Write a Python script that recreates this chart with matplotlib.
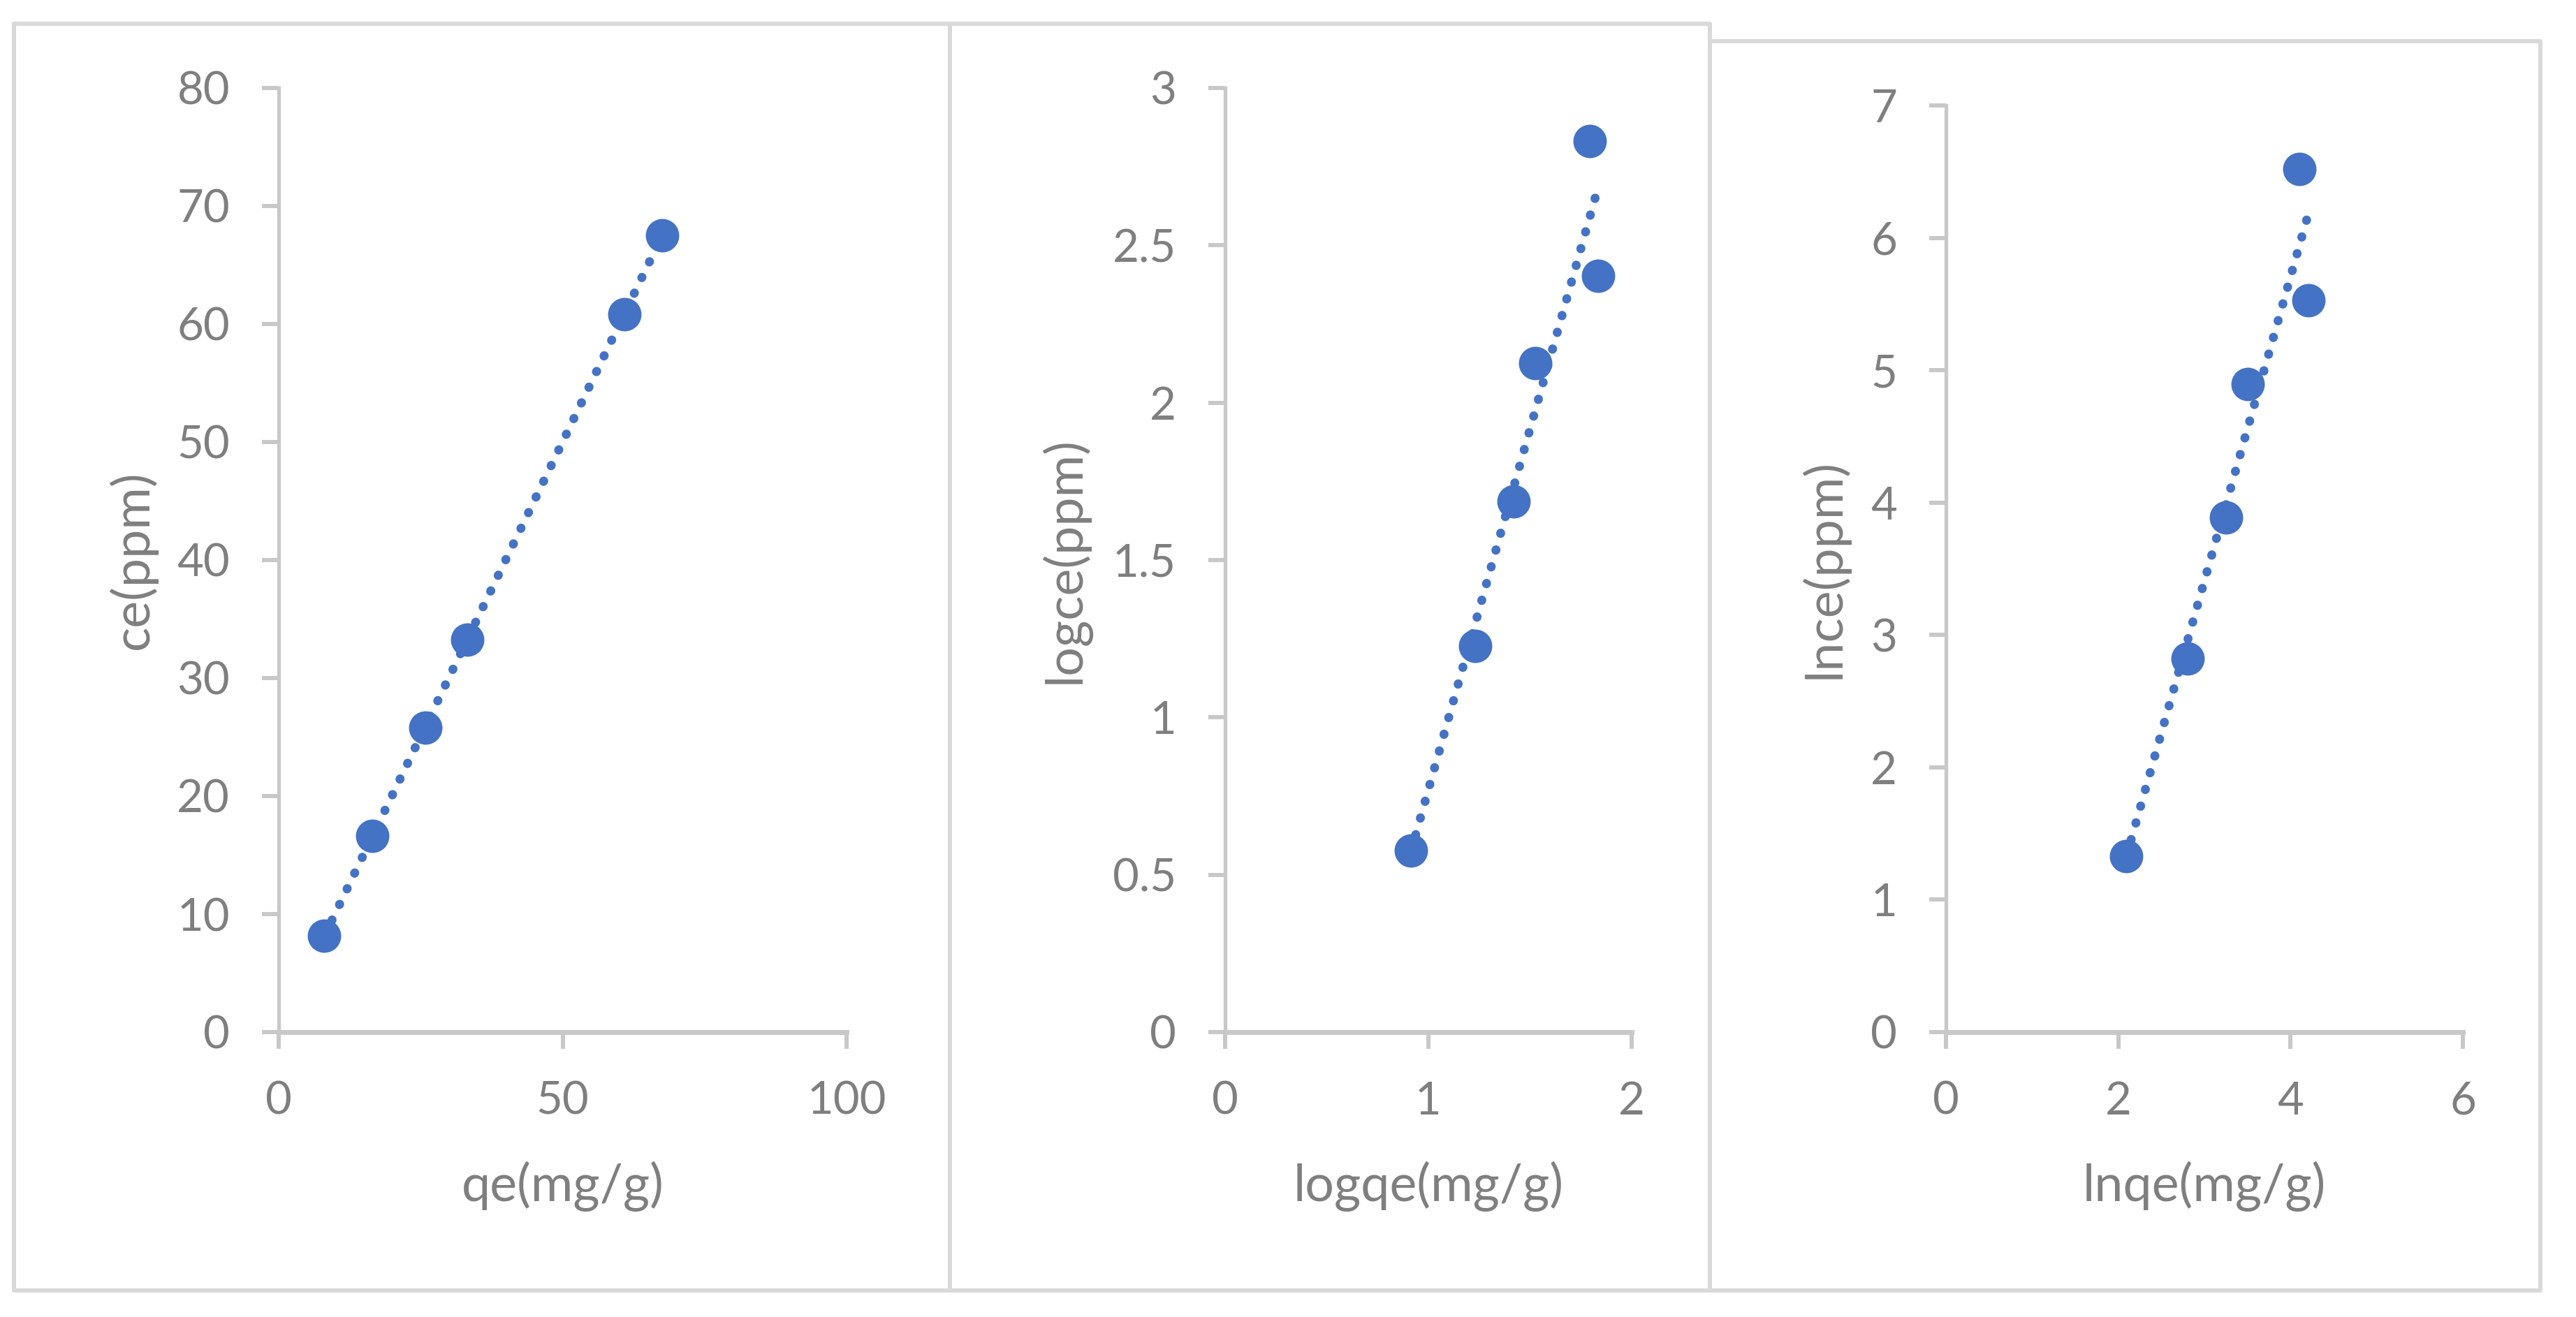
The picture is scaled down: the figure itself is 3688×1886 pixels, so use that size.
import numpy as np
import matplotlib
matplotlib.use("Agg")
import matplotlib.pyplot as plt
from matplotlib.patches import Rectangle
from matplotlib.ticker import FuncFormatter, MultipleLocator

# ---- data ----
qe = [8.04, 16.54, 25.78, 33.17, 60.87, 67.52]
ce = [8.17, 16.64, 25.78, 33.25, 60.83, 67.53]

logqe = [0.914, 1.229, 1.418, 1.527, 1.793, 1.836]
logce = [0.577, 1.226, 1.686, 2.126, 2.832, 2.402]

lnqe = [2.094, 2.808, 3.249, 3.505, 4.105, 4.211]
lnce = [1.327, 2.821, 3.887, 4.895, 6.522, 5.528]

x_labels = ["qe(mg/g)", "logqe(mg/g)", "lnqe(mg/g)"]
y_labels = ["ce(ppm)", "logce(ppm)", "lnce(ppm)"]
x_limits = [(0, 100), (0, 2), (0, 6)]
y_limits = [(0, 80), (0, 3), (0, 7)]
x_steps = [50, 1, 2]
y_steps = [10, 0.5, 1]

# ---- styling / layout ----
W, H = 3688, 1886
DPI = 100
BLUE = "#4472C4"
TEXT = "#7F7F7F"
AXIS = "#C8C8C8"
BORDER = "#D9D9D9"
FONT = ["Lato", "DejaVu Sans"]

plt.rcParams["font.family"] = FONT

fig = plt.figure(figsize=(W / DPI, H / DPI), dpi=DPI, facecolor="white")

# panel borders in pixel coords (x0, y0_top, x1, y1_bottom)
panels = [(20, 34, 1360, 1848), (1360, 34, 2448, 1848), (2448, 59, 3637, 1848)]
for (x0, y0, x1, y1) in panels:
    fig.add_artist(Rectangle((x0 / W, 1 - y1 / H), (x1 - x0) / W, (y1 - y0) / H,
                             transform=fig.transFigure, fill=False,
                             edgecolor=BORDER, linewidth=4.3, joinstyle="round"))

# axes rectangles in pixels (left, top, right, bottom)
axes_px = [(399, 126, 1212, 1478), (1754, 126, 2336, 1478), (2786, 151, 3526, 1478)]
ylabel_x = [190, 1524, 2611]
xlabel_y = 1699

datasets = [(qe, ce), (logqe, logce), (lnqe, lnce)]

for i, ((xs, ys), (l, t, r, b)) in enumerate(zip(datasets, axes_px)):
    ax = fig.add_axes([l / W, 1 - b / H, (r - l) / W, (b - t) / H])
    ax.set_facecolor("none")
    xs = np.asarray(xs)
    ys = np.asarray(ys)

    # trendline (linear fit over data range)
    k, c = np.polyfit(xs, ys, 1)
    xt = np.array([xs.min(), xs.max()])
    ax.plot(xt, k * xt + c, color=BLUE, linewidth=9.2,
            linestyle=(0, (0.05, 1.9)), dash_capstyle="round",
            solid_capstyle="round", clip_on=False, zorder=3)

    ax.plot(xs, ys, linestyle="none", marker="o", markersize=34.5,
            markerfacecolor=BLUE, markeredgecolor=BLUE, markeredgewidth=0,
            clip_on=False, zorder=4)

    ax.set_xlim(*x_limits[i])
    ax.set_ylim(*y_limits[i])
    ax.xaxis.set_major_locator(MultipleLocator(x_steps[i]))
    ax.yaxis.set_major_locator(MultipleLocator(y_steps[i]))
    fmt = FuncFormatter(lambda v, p: "{:g}".format(round(v, 6)))
    ax.xaxis.set_major_formatter(fmt)
    ax.yaxis.set_major_formatter(fmt)

    for s in ("top", "right"):
        ax.spines[s].set_visible(False)
    ax.spines["left"].set_color(AXIS)
    ax.spines["left"].set_linewidth(3.8)
    ax.spines["bottom"].set_color(AXIS)
    ax.spines["bottom"].set_linewidth(5.0)

    ax.tick_params(axis="both", which="major", direction="out", length=17.3,
                   width=4.3, color=AXIS, labelcolor=TEXT, labelsize=47, pad=33)
    for lab in ax.get_xticklabels() + ax.get_yticklabels():
        lab.set_family(FONT)

    # axis titles
    fig.text(((l + r) / 2) / W, 1 - xlabel_y / H, x_labels[i], ha="center",
             va="center", fontsize=53, color=TEXT, family=FONT)
    fig.text(ylabel_x[i] / W, 1 - ((t + b) / 2) / H, y_labels[i], ha="center",
             va="center", rotation=90, fontsize=53, color=TEXT, family=FONT)

fig.savefig("out.png", dpi=DPI, facecolor="white")
